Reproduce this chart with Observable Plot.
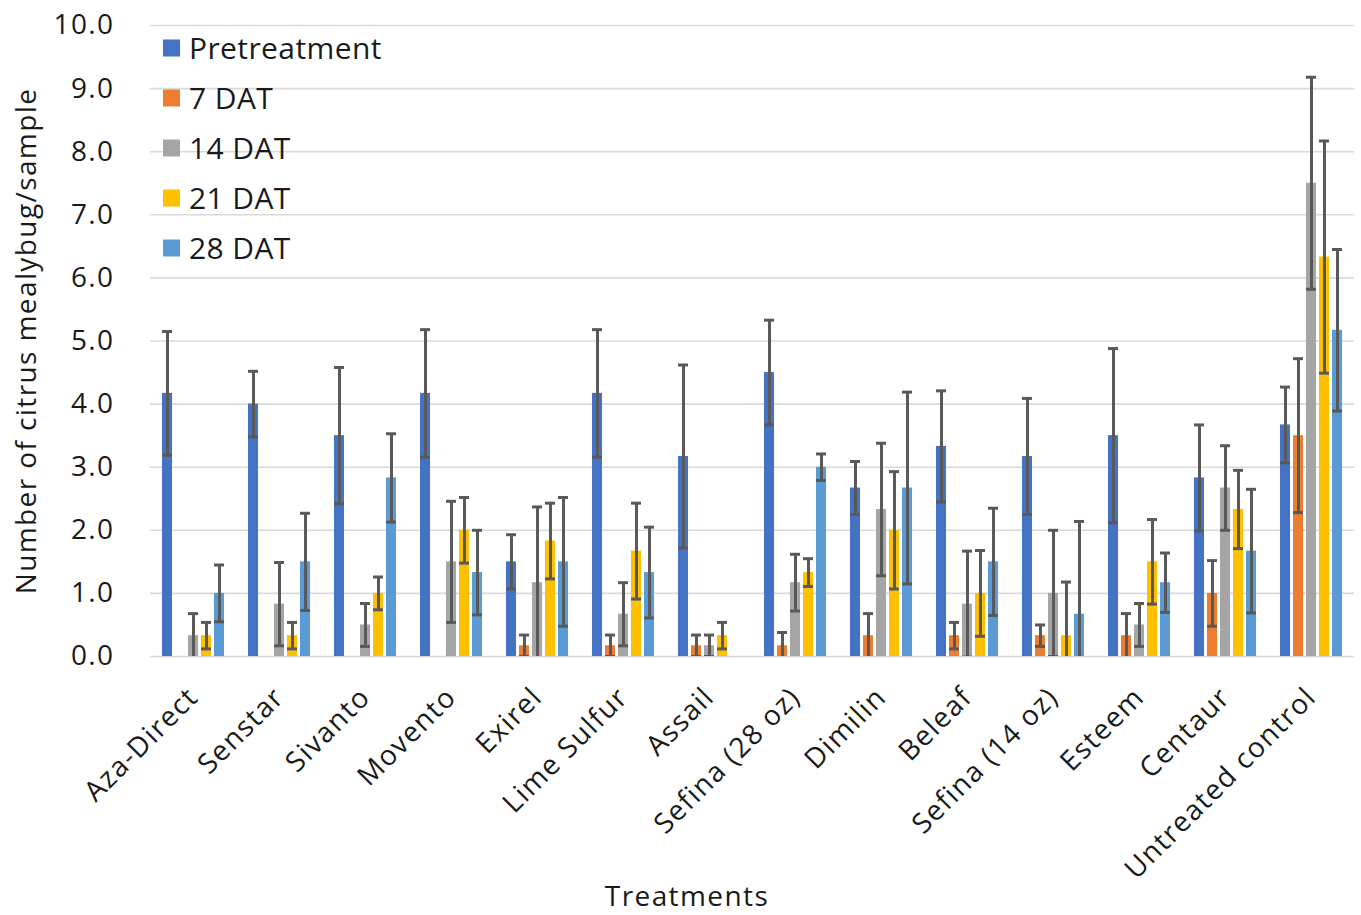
<!DOCTYPE html>
<html>
<head>
<meta charset="utf-8">
<script src="https://cdn.jsdelivr.net/npm/d3@7"></script>
<script src="https://cdn.jsdelivr.net/npm/@observablehq/plot@0.6"></script>
<style>
  html, body { margin: 0; padding: 0; background: #fff; }
  #chart { width: 1361px; height: 915px; overflow: hidden; }
  #chart svg text { letter-spacing: 1.4px; }
  #chart svg g.legend text { letter-spacing: 0.4px; }
</style>
</head>
<body>
<div id="chart"></div>
<script>
const categories = ["Aza-Direct", "Senstar", "Sivanto", "Movento", "Exirel", "Lime Sulfur", "Assail",
  "Sefina (28 oz)", "Dimilin", "Beleaf", "Sefina (14 oz)", "Esteem", "Centaur", "Untreated control"];
const series = ["Pretreatment", "7 DAT", "14 DAT", "21 DAT", "28 DAT"];
const colors = ["#4472C4", "#ED7D31", "#A5A5A5", "#FFC000", "#5B9BD5"];
const yTicks = [0, 1, 2, 3, 4, 5, 6, 7, 8, 9, 10];

const pretreatment = [4.17, 4.0, 3.5, 4.17, 1.5, 4.17, 3.17, 4.5, 2.67, 3.33, 3.17, 3.5, 2.83, 3.67];
const dat7 = [0, 0, 0, 0, 0.17, 0.17, 0.17, 0.17, 0.33, 0.33, 0.33, 0.33, 1.0, 3.5];
const dat14 = [0.33, 0.83, 0.5, 1.5, 1.17, 0.67, 0.17, 1.17, 2.33, 0.83, 1.0, 0.5, 2.67, 7.5];
const dat21 = [0.33, 0.33, 1.0, 2.0, 1.83, 1.67, 0.33, 1.33, 2.0, 1.0, 0.33, 1.5, 2.33, 6.33];
const dat28 = [1.0, 1.5, 2.83, 1.33, 1.5, 1.33, 0, 3.0, 2.67, 1.5, 0.67, 1.17, 1.67, 5.17];

const errPre = [0.98, 0.52, 1.08, 1.01, 0.43, 1.01, 1.45, 0.83, 0.42, 0.88, 0.92, 1.38, 0.84, 0.6];
const err7 = [0, 0, 0, 0, 0.17, 0.17, 0.17, 0.21, 0.35, 0.21, 0.17, 0.35, 0.52, 1.22];
const err14 = [0.35, 0.66, 0.34, 0.96, 1.2, 0.5, 0.17, 0.45, 1.05, 0.84, 1.0, 0.34, 0.67, 1.68];
const err21 = [0.21, 0.21, 0.26, 0.52, 0.6, 0.76, 0.21, 0.22, 0.93, 0.68, 0.85, 0.67, 0.62, 1.84];
const err28 = [0.45, 0.77, 0.70, 0.67, 1.02, 0.72, 0, 0.21, 1.52, 0.85, 1.47, 0.47, 0.98, 1.28];

const valueLists = [pretreatment, dat7, dat14, dat21, dat28];
const errLists = [errPre, err7, err14, err21, err28];

const data = [];
categories.forEach((cat, i) => {
  series.forEach((s, j) => {
    const v = valueLists[j][i], e = errLists[j][i];
    data.push({cat, series: s, value: v, err: e, lo: v - e, hi: v + e});
  });
});
const errData = data.filter(d => d.err > 0);

const W = 1361, H = 915;
const FONT = "'Open Sans', Lato, sans-serif";

const chart = Plot.plot({
  width: W,
  height: H,
  marginLeft: 145,
  marginRight: 2,
  marginTop: 25,
  marginBottom: H - 656,
  style: {fontFamily: FONT, fontSize: "28px", color: "#1a1a1a", background: "#fff"},
  fx: {domain: categories, padding: 0, axis: "bottom", tickRotate: -45, tickSize: 0, tickPadding: 36, label: null},
  x: {domain: series, paddingInner: 0.2, paddingOuter: 0.9, axis: null},
  y: {domain: [0, 10], ticks: yTicks, tickFormat: d3.format(".1f"), tickSize: 0, tickPadding: 36,
      label: "Number of citrus mealybug/sample", labelArrow: "none", labelAnchor: "center", labelOffset: 134},
  color: {domain: series, range: colors},
  marks: [
    Plot.ruleY(yTicks, {stroke: "#d9d9d9", strokeWidth: 1.6}),
    Plot.barY(data, {fx: "cat", x: "series", y: "value", fill: "series"}),
    Plot.ruleX(errData, {fx: "cat", x: "series", y1: "lo", y2: "hi", stroke: "#595959", strokeWidth: 3, clip: true}),
    Plot.tickY(errData, {fx: "cat", x: "series", y: "hi", stroke: "#595959", strokeWidth: 3, clip: true}),
    Plot.tickY(errData, {fx: "cat", x: "series", y: "lo", stroke: "#595959", strokeWidth: 3, clip: true})
  ]
});

document.getElementById("chart").appendChild(chart);

// Legend (inside plot area, top-left) and x-axis title
const svg = d3.select(chart);
const leg = svg.append("g").attr("class", "legend")
  .attr("font-family", FONT).attr("font-size", 30).attr("fill", "#1a1a1a")
  .attr("text-anchor", "start");
series.forEach((s, i) => {
  const cy = 48 + i * 50;
  leg.append("rect").attr("x", 163).attr("y", cy - 8.5).attr("width", 17).attr("height", 17).attr("fill", colors[i]);
  leg.append("text").attr("x", 189).attr("y", cy).attr("dy", "0.36em").attr("text-anchor", "start").text(s);
});
svg.append("text")
  .attr("x", 687).attr("y", 906)
  .attr("text-anchor", "middle")
  .attr("font-family", FONT).attr("font-size", 28).attr("fill", "#1a1a1a")
  .text("Treatments");
</script>
</body>
</html>
